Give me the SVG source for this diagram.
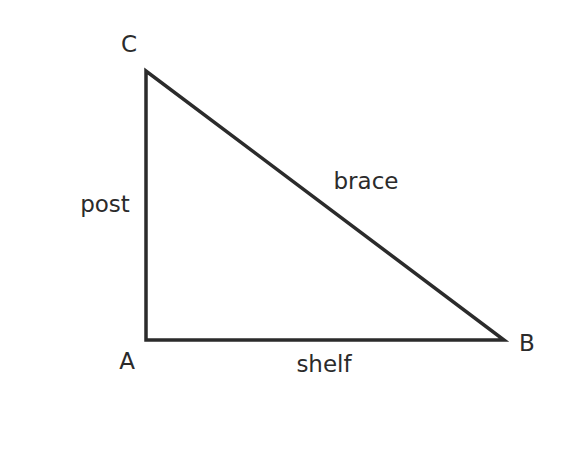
<svg xmlns="http://www.w3.org/2000/svg" width="576" height="452" viewBox="0 0 576 452">
<style>
.edge{stroke:#2b2b2b;stroke-width:3.5;fill:none;stroke-linecap:butt;stroke-linejoin:miter}
.lbl{font-family:"DejaVu Sans",sans-serif;font-size:23px;fill:#2b2b2b;text-anchor:middle}
</style>
<rect width="576" height="452" fill="#ffffff"/>
<g id="connectors">
<path class="edge" d="M146,71 L146,340 L504,340 Z"/>
</g>
<g id="A"><text class="lbl" x="127" y="369">A</text></g>
<g id="B"><text class="lbl" x="527" y="351">B</text></g>
<g id="C"><text class="lbl" x="129" y="52">C</text></g>
<g id="labels">
<text class="lbl" x="105" y="212">post</text>
<text class="lbl" x="366" y="189">brace</text>
<text class="lbl" x="324" y="372">shelf</text>
</g>
</svg>
